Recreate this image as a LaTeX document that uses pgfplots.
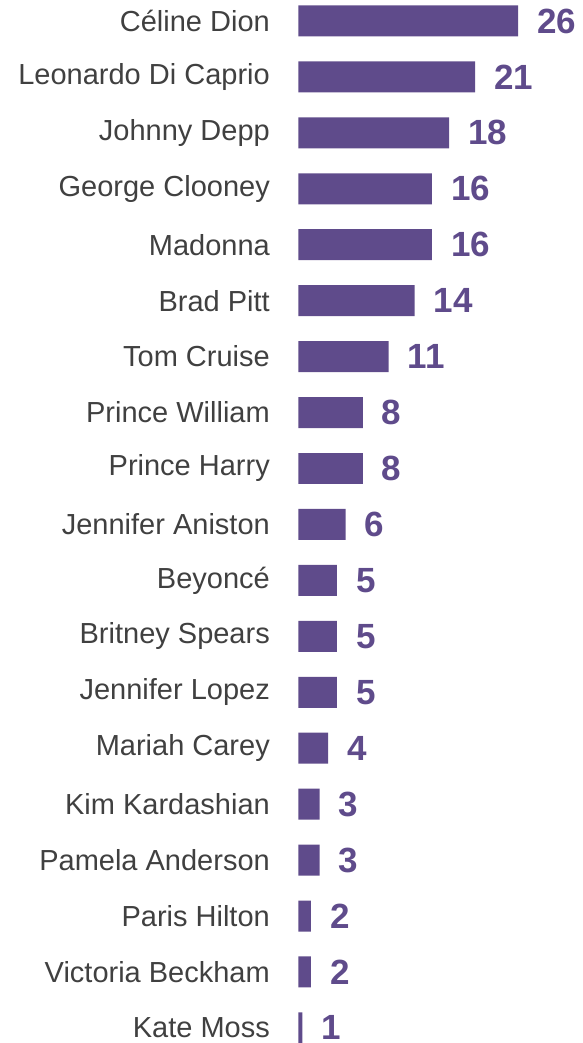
\documentclass[border=0pt]{standalone}
\usepackage{fontspec}
\setmainfont{Liberation Sans}
\usepackage{pgfplots}
\pgfplotsset{compat=1.18}
\definecolor{barpurple}{HTML}{5F4B8B}
\definecolor{labelgray}{HTML}{404040}
\begin{document}
\begin{tikzpicture}
\begin{axis}[
  at={(0,0)}, anchor=south west,
  scale only axis,
  width=284.7pt, height=1043pt,
  xbar, bar width=0.554,
  xmin=0.533, xmax=33.5,
  ymin=-0.375, ymax=18.27,
  y dir=reverse,
  axis line style={draw=none},
  tick style={draw=none},
  xtick=\empty,
  ytick={0,...,18},
  /pgf/number format/assume math mode=true,
  yticklabels={Céline Dion,Leonardo Di Caprio,Johnny Depp,George Clooney,Madonna,Brad Pitt,Tom Cruise,Prince William,Prince Harry,Jennifer Aniston,Beyoncé,Britney Spears,Jennifer Lopez,Mariah Carey,Kim Kardashian,Pamela Anderson,Paris Hilton,Victoria Beckham,Kate Moss},
  yticklabel style={anchor=east, inner sep=0pt, xshift=-24pt, font=\fontsize{29}{29}\selectfont, text=labelgray},
  nodes near coords,
  nodes near coords style={anchor=west, inner sep=0pt, xshift=19pt, font=\bfseries\fontsize{35}{35}\selectfont, text=barpurple},
]
\addplot[fill=barpurple, draw=none] coordinates {
(26,0) (21,1) (18,2) (16,3) (16,4) (14,5) (11,6) (8,7) (8,8) (6,9) (5,10) (5,11) (5,12) (4,13) (3,14) (3,15) (2,16) (2,17) (1,18)
};
\end{axis}
\pgfresetboundingbox
\path (-298.3pt,0pt) rectangle (284.7pt,1043pt);
\end{tikzpicture}
\end{document}
